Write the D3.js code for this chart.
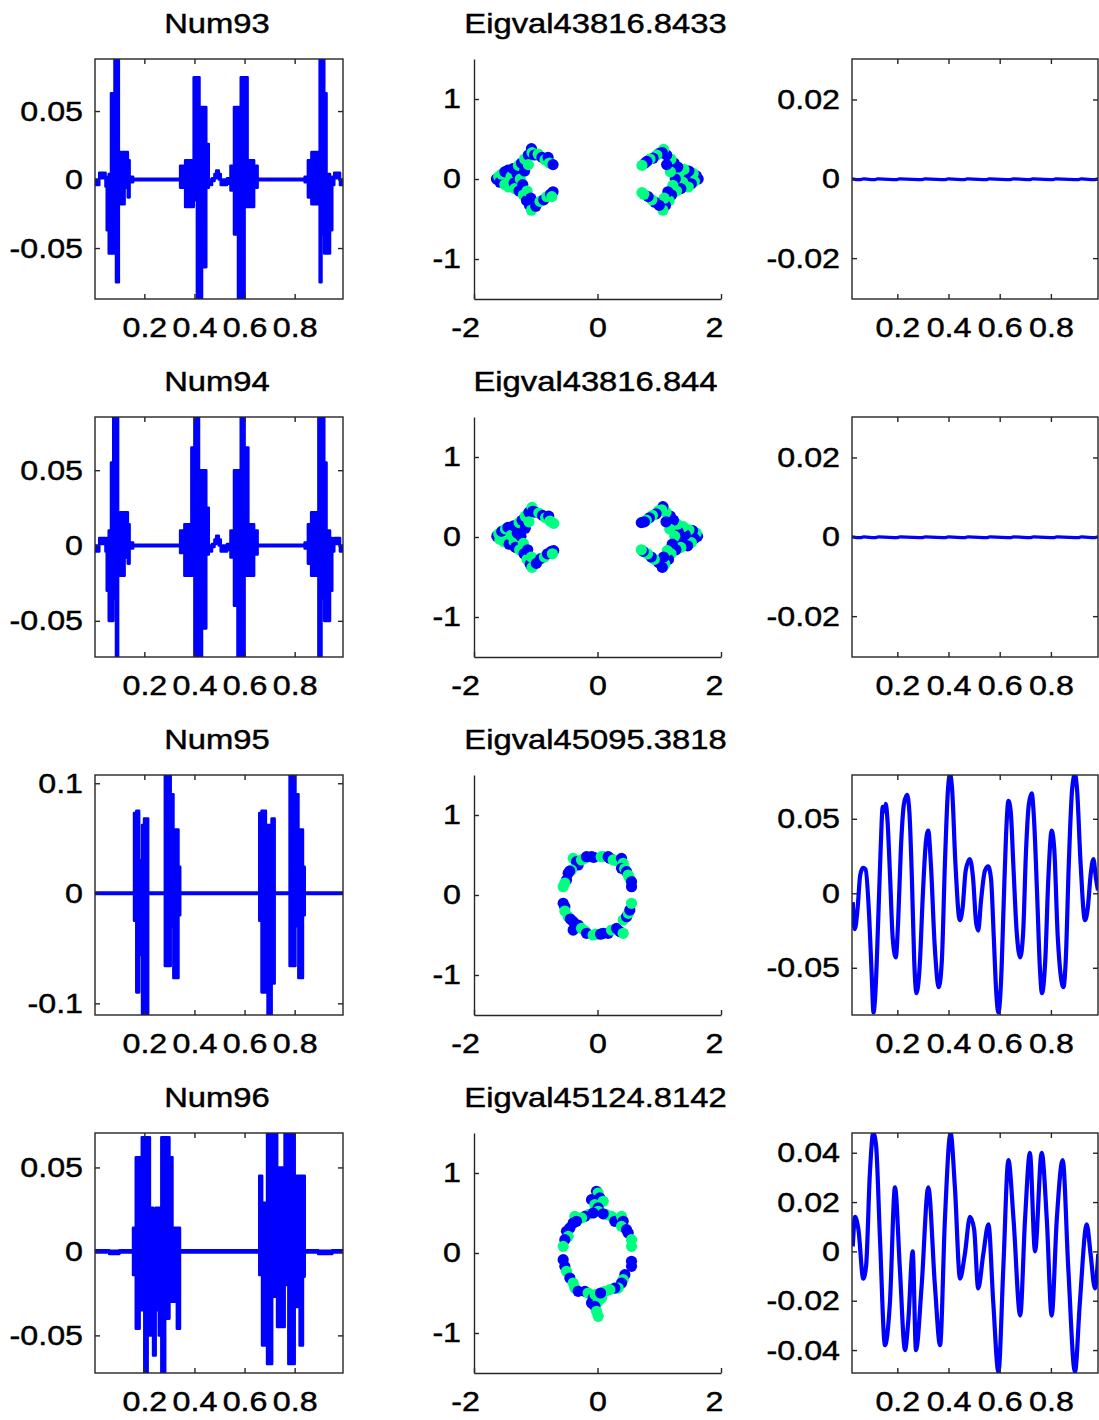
<!DOCTYPE html>
<html><head><meta charset="utf-8">
<script src="https://cdn.jsdelivr.net/npm/d3@7"></script>
<style>body{margin:0;background:#fff}svg{display:block}</style>
</head><body>
<svg id="chart" width="1099" height="1420"></svg>
<script>
// ---------------- DATA ----------------
const titlesLeft = ["Num93","Num94","Num95","Num96"];
const titlesMid = ["Eigval43816.8433","Eigval43816.844","Eigval45095.3818","Eigval45124.8142"];
const timeTicks = [0.2,0.4,0.6,0.8];
const eigTicksX = [-2,0,2];
const eigTicksY = [-1,0,1];
const leftYTicks = [[-0.05,0,0.05],[-0.05,0,0.05],[-0.1,0,0.1],[-0.05,0,0.05]];
const leftYDomains = [[-0.0872,0.088],[-0.074,0.0853],[-0.1106,0.1075],[-0.0724,0.0705]];
const rightYTicks = [[-0.02,0,0.02],[-0.02,0,0.02],[-0.05,0,0.05],[-0.04,-0.02,0,0.02,0.04]];
const rightYDomains = [[-0.0303,0.0302],[-0.0303,0.0302],[-0.0817,0.0794],[-0.0493,0.048]];

// left column: sampled signal envelope [x, max, min]
const env93 = [[0.004,0,-0.004],[0.02,0.005,0.001],[0.045,0.002,-0.005],[0.05,0,-0.037],[0.058,0.004,-0.054],
 [0.067,0.063,-0.054],[0.081,0.1,-0.04],[0.087,0.1,-0.075],[0.098,0.02,-0.015],[0.104,0.02,-0.018],[0.121,0.02,-0.006],
 [0.134,0.014,-0.013],[0.141,0.002,-0.002],[0.155,0.0005,-0.0005],[0.343,0.01,-0.006],[0.363,0.014,-0.02],
 [0.397,0.0746,-0.015],[0.41,0.0746,-0.1],[0.42,0.053,-0.1],[0.43,0.053,-0.064],[0.447,0.026,-0.006],[0.457,0,-0.004],
 [0.47,0.001,-0.001],[0.48,0.004,0.001],[0.487,0.0065,0.002],[0.497,0.004,0],[0.505,0,-0.004],[0.53,0.001,-0.003],
 [0.544,0.01,-0.008],[0.558,0.053,-0.04],[0.574,0.053,-0.1],[0.585,0.0746,-0.1],[0.6,0.0746,-0.02],[0.612,0.014,-0.02],
 [0.638,0.01,-0.006],[0.652,0.0005,-0.0005],[0.84,0.002,-0.002],[0.853,0.014,-0.013],[0.867,0.02,-0.018],
 [0.9,0.1,-0.075],[0.907,0.1,-0.04],[0.918,0.063,-0.054],[0.927,0.004,-0.054],[0.941,0,-0.037],[0.95,0.002,-0.004],
 [0.958,0.005,0.001],[0.981,0,-0.004],[0.993,0,-0.004]];
const env94 = [[0.004,0,-0.004],[0.02,0.005,0.001],[0.045,0.002,-0.004],[0.05,0.005,-0.03],[0.058,0.01,-0.05],
 [0.067,0.055,-0.05],[0.076,0.1,-0.035],[0.087,0.1,-0.1],[0.095,0.02,-0.02],[0.104,0.022,-0.02],[0.121,0.022,-0.008],
 [0.134,0.014,-0.012],[0.141,0.002,-0.002],[0.155,0.0005,-0.0005],[0.343,0.01,-0.005],[0.36,0.014,-0.02],
 [0.388,0.065,-0.02],[0.4,0.1,-0.1],[0.418,0.05,-0.1],[0.43,0.05,-0.055],[0.447,0.025,-0.006],[0.457,0,-0.004],
 [0.47,0.001,-0.001],[0.48,0.004,0.001],[0.487,0.0065,0.002],[0.497,0.004,0],[0.505,0,-0.004],[0.53,0.001,-0.003],
 [0.544,0.01,-0.008],[0.558,0.05,-0.04],[0.572,0.05,-0.1],[0.585,0.1,-0.1],[0.6,0.065,-0.02],[0.615,0.014,-0.02],
 [0.638,0.01,-0.006],[0.652,0.0005,-0.0005],[0.84,0.002,-0.002],[0.853,0.014,-0.012],[0.866,0.022,-0.02],
 [0.895,0.1,-0.1],[0.907,0.1,-0.035],[0.918,0.055,-0.05],[0.927,0.01,-0.05],[0.941,0.005,-0.03],[0.95,0.002,-0.004],
 [0.958,0.005,0.001],[0.981,0,-0.004],[0.993,0,-0.004]];
const env95 = [[0.003,0.0006,-0.0006],[0.159,0.073,-0.025],[0.168,0.075,-0.09],[0.179,0.03,-0.056],[0.191,0.062,-0.12],
 [0.199,0.068,-0.12],[0.215,0.0006,-0.0006],[0.282,0.12,-0.066],[0.305,0.09,-0.03],[0.316,0.058,-0.077],[0.336,0.024,-0.02],
 [0.343,0.0006,-0.0006],[0.659,0.073,-0.025],[0.668,0.075,-0.09],[0.685,0.062,-0.058],[0.692,0.062,-0.12],
 [0.708,0.068,-0.082],[0.72,0.0006,-0.0006],[0.78,0.12,-0.066],[0.803,0.09,-0.03],[0.815,0.058,-0.077],
 [0.833,0.024,-0.02],[0.84,0.0006,-0.0006],[0.993,0.0006,-0.0006]];
const env96 = [[0.003,0.0006,-0.0006],[0.06,0.0004,-0.0015],[0.1,0.0006,-0.0006],[0.155,0.014,-0.014],[0.166,0.056,-0.046],
 [0.181,0.056,-0.035],[0.19,0.068,-0.035],[0.2,0.068,-0.08],[0.213,0.068,-0.05],[0.222,0.026,-0.05],[0.235,0.01,-0.062],
 [0.245,0.026,-0.035],[0.258,0.026,-0.05],[0.268,0.068,-0.08],[0.283,0.068,-0.04],[0.3,0.056,-0.03],[0.312,0.014,-0.03],
 [0.33,0.014,-0.046],[0.342,0.0006,-0.0006],[0.659,0.045,-0.014],[0.67,0.029,-0.056],[0.69,0.08,-0.067],[0.71,0.08,-0.027],
 [0.73,0.05,-0.045],[0.76,0.08,-0.02],[0.775,0.08,-0.067],[0.8,0.045,-0.033],[0.82,0.045,-0.056],[0.833,0.045,-0.015],
 [0.84,0.0006,-0.0006],[0.894,0.0004,-0.0015],[0.95,0.0006,-0.0006],[0.993,0.0006,-0.0006]];

// middle column: eigenvector components [re, im, class]
const eig93 = [[-1.636,0,0],[-1.6,0.03,1],[-1.58,-0.04,0],[-1.55,0.06,1],[-1.5,-0.07,1],[-1.5,0.09,0],[-1.45,0.11,0],
 [-1.44,-0.1,1],[-1.4,0.03,1],[-1.37,0.13,0],[-1.35,-0.05,0],[-1.34,-0.12,1],[-1.3,0.06,0],[-1.28,0.17,1],[-1.27,-0.15,0],
 [-1.25,0,1],[-1.23,0.2,0],[-1.21,-0.07,0],[-1.2,-0.2,1],[-1.18,0.25,1],[-1.18,0.1,0],[-1.15,-0.27,0],[-1.14,-0.15,1],
 [-1.12,0.3,0],[-1.12,0.18,1],[-1.1,-0.33,0],[-1.08,-0.24,0],[-1.07,0.38,0],[-1.06,0.33,1],[-1.07,-0.39,1],[-1.02,0.3,0],
 [-1,-0.34,0],[-0.96,0.31,1],[-0.93,-0.28,1],[-0.9,0.27,0],[-0.87,-0.26,0],[-0.85,0.24,1],[-0.82,-0.22,1],[-0.8,0.27,0],
 [-0.78,0.2,1],[-0.76,-0.19,0],[-0.72,0.18,0],[-0.72,-0.16,0],[-0.74,-0.22,1],
 [1.63,0,0],[1.6,0.04,0],[1.57,-0.03,1],[1.55,0.07,1],[1.52,-0.06,0],[1.48,0.1,0],[1.47,-0.1,1],[1.42,0.04,0],[1.4,0.12,1],
 [1.38,-0.04,1],[1.35,-0.12,0],[1.32,0.07,1],[1.3,0.15,0],[1.28,-0.15,1],[1.26,0,0],[1.24,0.2,0],[1.22,-0.08,1],[1.2,-0.2,0],
 [1.19,0.25,1],[1.18,0.09,1],[1.16,-0.27,1],[1.14,-0.16,0],[1.12,0.3,0],[1.12,0.18,0],[1.1,-0.33,0],[1.08,-0.24,1],
 [1.07,0.37,1],[1.05,0.33,0],[1.06,-0.39,1],[1,0.32,0],[1,-0.33,0],[0.96,0.3,1],[0.93,-0.29,0],[0.9,0.26,0],[0.88,-0.26,1],
 [0.85,0.25,1],[0.82,-0.22,0],[0.8,0.22,0],[0.77,0.2,0],[0.75,-0.19,1],[0.72,0.17,1],[0.72,-0.17,1]];
const eig94 = [[-1.63,0.01,0],[-1.6,0.04,1],[-1.58,-0.03,1],[-1.55,0.07,0],[-1.51,-0.06,1],[-1.49,0.1,1],[-1.45,0.12,0],
 [-1.43,-0.09,0],[-1.4,0.02,1],[-1.36,0.14,0],[-1.35,-0.06,1],[-1.33,-0.13,0],[-1.3,0.05,0],[-1.27,0.18,1],[-1.26,-0.16,1],
 [-1.24,0.01,0],[-1.22,0.21,0],[-1.2,-0.08,1],[-1.19,-0.21,0],[-1.17,0.26,1],[-1.17,0.11,0],[-1.14,-0.28,1],[-1.13,-0.16,0],
 [-1.11,0.31,0],[-1.11,0.19,1],[-1.09,-0.34,0],[-1.07,-0.25,1],[-1.06,0.37,1],[-1.05,0.32,0],[-1.06,-0.38,1],[-1.01,0.31,0],
 [-0.99,-0.33,0],[-0.95,0.3,1],[-0.92,-0.27,0],[-0.89,0.27,0],[-0.86,-0.25,1],[-0.84,0.24,1],[-0.81,-0.21,0],[-0.79,0.26,0],
 [-0.77,0.2,1],[-0.75,-0.18,0],[-0.71,0.17,1],[-0.71,-0.17,0],[-0.73,-0.21,1],
 [1.62,0.01,0],[1.6,0.05,1],[1.57,-0.02,0],[1.54,0.08,0],[1.52,-0.07,1],[1.48,0.09,1],[1.46,-0.11,0],[1.42,0.03,0],
 [1.39,0.13,1],[1.37,-0.05,0],[1.35,-0.13,1],[1.31,0.06,0],[1.29,0.16,1],[1.27,-0.16,0],[1.25,0.01,1],[1.23,0.21,0],
 [1.21,-0.09,0],[1.19,-0.21,1],[1.18,0.26,0],[1.17,0.1,1],[1.15,-0.28,0],[1.13,-0.17,1],[1.11,0.31,1],[1.11,0.19,0],
 [1.09,-0.34,1],[1.07,-0.25,0],[1.06,0.38,0],[1.04,0.34,1],[1.05,-0.38,0],[0.99,0.33,1],[0.99,-0.32,0],[0.95,0.29,0],
 [0.92,-0.28,1],[0.89,0.27,1],[0.87,-0.25,0],[0.84,0.24,0],[0.81,-0.21,1],[0.79,0.21,1],[0.76,0.19,0],[0.74,-0.18,0],
 [0.71,0.18,0],[0.71,-0.16,1]];
const eig95 = [[-0.394,0.458,1],[-0.34,0.417,0],[-0.313,0.375,0],[-0.259,0.438,1],[-0.205,0.46,1],[-0.178,0.479,0],
 [-0.097,0.479,0],[-0.06,0.47,0],[0.06,0.479,1],[0.092,0.479,1],[0.173,0.479,0],[0.2,0.46,0],[0.254,0.438,1],[0.3,0.43,1],
 [0.389,0.458,0],[0.416,0.396,1],[0.389,0.333,0],[0.44,0.33,1],[0.47,0.292,0],[0.497,0.25,1],[0.52,0.21,1],[0.551,0.167,0],
 [0.551,0.104,0],[-0.421,0.313,1],[-0.475,0.271,0],[-0.45,0.3,0],[-0.502,0.188,0],[-0.53,0.15,1],[-0.556,0.104,1],
 [-0.556,-0.104,0],[-0.529,-0.146,0],[-0.529,-0.2,1],[-0.475,-0.271,1],[-0.394,-0.333,0],[-0.44,-0.3,0],[-0.313,-0.375,0],
 [-0.394,-0.438,0],[-0.259,-0.417,1],[-0.2,-0.45,1],[-0.178,-0.479,0],[-0.07,-0.5,1],[-0.03,-0.49,1],[0.05,-0.49,0],
 [0.092,-0.479,0],[0.173,-0.479,0],[0.227,-0.438,1],[0.308,-0.417,0],[0.362,-0.458,0],[0.416,-0.479,1],[0.416,-0.313,1],
 [0.47,-0.271,0],[0.5,-0.23,1],[0.524,-0.188,0],[0.551,-0.104,1]];
const eig96 = [[-0.016,0.771,0],[0.011,0.75,1],[-0.097,0.667,0],[0.038,0.688,0],[0.092,0.646,1],[-0.043,0.604,1],
 [0.011,0.563,0],[0.011,0.521,1],[-0.151,0.48,1],[-0.205,0.458,0],[-0.259,0.438,1],[-0.367,0.458,1],[-0.34,0.396,0],
 [-0.394,0.375,0],[-0.448,0.313,0],[-0.502,0.271,0],[-0.475,0.208,1],[-0.529,0.167,0],[-0.556,0.083,1],[-0.07,0.5,0],
 [0.146,0.48,1],[0.227,0.458,1],[0.281,0.396,0],[0.389,0.458,1],[0.416,0.396,0],[0.389,0.333,1],[0.47,0.292,0],
 [0.497,0.25,0],[0.551,0.167,1],[0.551,0.083,1],[0.092,0.49,0],
 [-0.556,-0.083,0],[-0.529,-0.167,0],[-0.502,-0.229,1],[-0.448,-0.313,0],[-0.394,-0.375,1],[-0.367,-0.438,1],
 [-0.313,-0.479,0],[-0.205,-0.479,0],[-0.151,-0.5,1],[-0.07,-0.563,0],[-0.097,-0.625,0],[-0.04,-0.52,1],
 [0.551,-0.104,0],[0.551,-0.167,0],[0.443,-0.271,0],[0.416,-0.333,1],[0.389,-0.375,0],[0.335,-0.438,1],[0.281,-0.438,0],
 [0.2,-0.458,1],[0.119,-0.479,1],[0.065,-0.563,1],[0.011,-0.604,1],[-0.043,-0.667,0],[-0.016,-0.729,1],[0.011,-0.792,1],
 [0.05,-0.5,0]];

// right column: mode signals [x, y]
const mode93 = [[0.023,0],[0.04,-0.0002],[0.056,-0.0002],[0.07,0],[0.1,-0.0002],[0.112,-0.0002],[0.125,0],[0.185,-0.0002],
 [0.198,-0.0002],[0.21,0],[0.283,-0.0002],[0.296,-0.0002],[0.31,0],[0.374,-0.0002],[0.387,-0.0002],[0.4,0],[0.449,-0.0002],
 [0.462,-0.0002],[0.475,0],[0.536,-0.0002],[0.549,-0.0002],[0.56,0],[0.628,-0.0002],[0.641,-0.0002],[0.655,0],
 [0.706,-0.0002],[0.719,-0.0002],[0.73,0],[0.797,-0.0002],[0.81,-0.0002],[0.82,0],[0.894,-0.0002],[0.907,-0.0002],
 [0.92,0],[0.959,-0.0002],[0.972,-0.0002],[0.984,0]];
const mode94 = [[0.023,0],[0.042,-0.0002],[0.058,-0.0002],[0.07,0],[0.102,-0.0002],[0.115,-0.0002],[0.128,0],
 [0.188,-0.0002],[0.2,-0.0002],[0.212,0],[0.285,-0.0002],[0.298,-0.0002],[0.31,0],[0.376,-0.0002],[0.389,-0.0002],
 [0.4,0],[0.451,-0.0002],[0.464,-0.0002],[0.477,0],[0.538,-0.0002],[0.551,-0.0002],[0.563,0],[0.63,-0.0002],
 [0.643,-0.0002],[0.656,0],[0.708,-0.0002],[0.721,-0.0002],[0.733,0],[0.799,-0.0002],[0.812,-0.0002],[0.825,0],
 [0.896,-0.0002],[0.909,-0.0002],[0.92,0],[0.961,-0.0002],[0.974,-0.0002],[0.984,0]];
const mode95 = [[0.026,-0.006],[0.034,-0.024],[0.045,-0.01],[0.055,0.012],[0.066,0.017],[0.076,0.016],[0.09,-0.015],
 [0.1,-0.055],[0.107,-0.08],[0.115,-0.065],[0.125,-0.02],[0.135,0.03],[0.143,0.058],[0.15,0.055],[0.155,0.06],
 [0.162,0.048],[0.172,0.01],[0.182,-0.03],[0.194,-0.043],[0.203,-0.02],[0.214,0.03],[0.226,0.06],[0.238,0.066],
 [0.247,0.055],[0.257,0.01],[0.266,-0.045],[0.275,-0.067],[0.287,-0.05],[0.3,0],[0.312,0.035],[0.321,0.042],
 [0.331,0.02],[0.346,-0.035],[0.362,-0.063],[0.374,-0.045],[0.386,0.02],[0.398,0.07],[0.406,0.08],[0.414,0.07],
 [0.427,0.02],[0.444,-0.018],[0.455,-0.01],[0.467,0.015],[0.483,0.023],[0.496,0.01],[0.508,-0.02],[0.516,-0.025],
 [0.527,-0.005],[0.542,0.015],[0.555,0.018],[0.566,0.01],[0.577,-0.03],[0.586,-0.065],[0.595,-0.08],[0.605,-0.06],
 [0.615,-0.01],[0.625,0.04],[0.634,0.062],[0.643,0.055],[0.653,0.02],[0.666,-0.025],[0.68,-0.043],[0.692,-0.025],
 [0.702,0.025],[0.714,0.06],[0.725,0.067],[0.734,0.05],[0.746,0],[0.757,-0.05],[0.765,-0.067],[0.778,-0.045],
 [0.79,0.01],[0.803,0.042],[0.813,0.03],[0.827,-0.03],[0.849,-0.063],[0.858,-0.045],[0.87,0.02],[0.883,0.07],
 [0.894,0.08],[0.902,0.07],[0.916,0.02],[0.933,-0.018],[0.944,-0.01],[0.955,0.012],[0.966,0.023],[0.976,0.01],
 [0.984,0.002]];
const mode96 = [[0.026,0.002],[0.035,0.014],[0.048,0.009],[0.067,-0.011],[0.078,-0.006],[0.093,0.032],[0.106,0.048],
 [0.117,0.043],[0.132,0.006],[0.152,-0.038],[0.171,-0.021],[0.191,0.026],[0.21,-0.007],[0.23,-0.04],[0.243,-0.028],
 [0.26,0],[0.273,-0.04],[0.295,-0.014],[0.321,0.026],[0.347,-0.014],[0.367,-0.038],[0.386,0.013],[0.408,0.048],
 [0.425,0.026],[0.445,-0.011],[0.464,-0.001],[0.484,0.014],[0.5,0.009],[0.516,-0.015],[0.536,-0.001],[0.556,0.011],
 [0.575,-0.021],[0.595,-0.049],[0.614,-0.007],[0.634,0.037],[0.654,0.013],[0.68,-0.026],[0.699,0.013],[0.718,0.04],
 [0.738,0],[0.764,0.04],[0.784,0.013],[0.803,-0.026],[0.823,0.013],[0.846,0.037],[0.868,-0.007],[0.894,-0.049],
 [0.913,-0.021],[0.94,0.011],[0.955,-0.001],[0.972,-0.015],[0.985,-0.001]];

const envs = [env93, env94, env95, env96];
const eigs = [eig93, eig94, eig95, eig96];
const modes = [mode93, mode94, mode95, mode96];

// ---------------- LAYOUT ----------------
const FONT = '"Liberation Sans", Arial, Helvetica, sans-serif';
const FS = 28;
const rowTop = [59, 417, 775, 1133];
const plotH = 240;
const colX = [[95, 343], [474, 721], [852, 1098]];
const leftXDomain = [0.003, 0.993];
const rightXDomain = [0.023, 0.984];
const BLUE = "#0000ff";
const AX = "#262626";
const classColor = d3.scaleLinear().domain([0, 1]).range(["#0000ff", "#00ff80"]);

const svg = d3.select("#chart");
svg.append("rect").attr("width", 1099).attr("height", 1420).attr("fill", "#fff");

const fmt = d => d === 0 ? "0" : String(d).replace("\u2212", "-");

function stretch(sel, k) {
  sel.each(function () {
    const w = this.getComputedTextLength();
    if (w > 0) {
      this.setAttribute("textLength", (w * k).toFixed(2));
      this.setAttribute("lengthAdjust", "spacingAndGlyphs");
    }
  });
}
function inkText(sel) {
  sel.attr("fill", "#000").attr("stroke", "#000").attr("stroke-width", 0.45);
}
function styleAxis(g, keepDomain) {
  g.attr("font-size", FS).attr("font-family", FONT);
  if (!keepDomain) g.select("path.domain").remove();
  else g.select("path.domain").attr("stroke", AX).attr("stroke-width", 1.4);
  g.selectAll(".tick line").attr("stroke", AX).attr("stroke-width", 1.4);
  inkText(g.selectAll("text"));
  stretch(g.selectAll("text"), 1.15);
  return g;
}
function title(txt, cx, top) {
  const t = svg.append("text").attr("x", cx - 2).attr("y", top - 26)
    .attr("text-anchor", "middle").attr("font-family", FONT).attr("font-size", FS).text(txt);
  inkText(t);
  stretch(t, 1.17);
}
function boxAxes(g, x, y, top, bottom, left, right, yt) {
  styleAxis(g.append("g").attr("transform", `translate(0,${bottom})`)
    .call(d3.axisBottom(x).tickValues(timeTicks).tickSizeInner(-5).tickSizeOuter(0).tickPadding(18).tickFormat(fmt)));
  styleAxis(g.append("g").attr("transform", `translate(0,${top})`)
    .call(d3.axisTop(x).tickValues(timeTicks).tickSizeInner(-5).tickSizeOuter(0).tickFormat("")));
  styleAxis(g.append("g").attr("transform", `translate(${left},0)`)
    .call(d3.axisLeft(y).tickValues(yt).tickSizeInner(-5).tickSizeOuter(0).tickPadding(12).tickFormat(fmt)));
  styleAxis(g.append("g").attr("transform", `translate(${right},0)`)
    .call(d3.axisRight(y).tickValues(yt).tickSizeInner(-5).tickSizeOuter(0).tickFormat("")));
  g.append("rect").attr("x", left).attr("y", top).attr("width", right - left).attr("height", bottom - top)
    .attr("fill", "none").attr("stroke", AX).attr("stroke-width", 1.4);
}
function clip(id, left, top, w, h) {
  svg.append("clipPath").attr("id", id).append("rect")
    .attr("x", left).attr("y", top).attr("width", w).attr("height", h);
  return `url(#${id})`;
}

for (let r = 0; r < 4; r++) {
  const top = rowTop[r], bottom = top + plotH;

  // ----- left: signal -----
  {
    const [l, rt] = colX[0];
    const x = d3.scaleLinear().domain(leftXDomain).range([l, rt]);
    const y = d3.scaleLinear().domain(leftYDomains[r]).range([bottom, top]);
    const g = svg.append("g");
    const area = d3.area().curve(d3.curveStepAfter)
      .x(d => x(d[0])).y0(d => y(d[2])).y1(d => y(d[1]));
    g.append("path").datum(envs[r]).attr("d", area)
      .attr("fill", BLUE).attr("stroke", BLUE).attr("stroke-width", 2.6)
      .attr("stroke-linejoin", "round")
      .attr("clip-path", clip("cl" + r, l, top, rt - l, plotH));
    boxAxes(g, x, y, top, bottom, l, rt, leftYTicks[r]);
    title(titlesLeft[r], (l + rt) / 2, top);
  }

  // ----- middle: eigenvector scatter -----
  {
    const [l, rt] = colX[1];
    const x = d3.scaleLinear().domain([-2, 2]).range([l, rt]);
    const y = d3.scaleLinear().domain([-1.5, 1.5]).range([bottom, top]);
    const g = svg.append("g");
    g.append("g").selectAll("circle").data(eigs[r]).join("circle")
      .attr("cx", d => x(d[0])).attr("cy", d => y(d[1])).attr("r", 5.6)
      .attr("fill", d => classColor(d[2]));
    const xa = styleAxis(g.append("g").attr("transform", `translate(0,${bottom})`)
      .call(d3.axisBottom(x).tickValues(eigTicksX).tickSizeInner(-5).tickSizeOuter(0).tickPadding(18).tickFormat(fmt)), true);
    xa.selectAll(".tick text").attr("dx", d => d < 0 ? -9 : (d > 0 ? -7 : 0));
    styleAxis(g.append("g").attr("transform", `translate(${l},0)`)
      .call(d3.axisLeft(y).tickValues(eigTicksY).tickSizeInner(-5).tickSizeOuter(0).tickPadding(13).tickFormat(fmt)), true);
    title(titlesMid[r], (l + rt) / 2, top);
  }

  // ----- right: mode signal -----
  {
    const [l, rt] = colX[2];
    const x = d3.scaleLinear().domain(rightXDomain).range([l, rt]);
    const y = d3.scaleLinear().domain(rightYDomains[r]).range([bottom, top]);
    const g = svg.append("g");
    const line = d3.line().curve(r < 2 ? d3.curveLinear : d3.curveMonotoneX)
      .x(d => x(d[0])).y(d => y(d[1]));
    g.append("path").datum(modes[r]).attr("d", line)
      .attr("fill", "none").attr("stroke", BLUE).attr("stroke-width", r < 2 ? 3.2 : 4.2)
      .attr("stroke-linejoin", "round")
      .attr("clip-path", clip("cr" + r, l, top, rt - l, plotH));
    boxAxes(g, x, y, top, bottom, l, rt, rightYTicks[r]);
  }
}
</script>
</body></html>
